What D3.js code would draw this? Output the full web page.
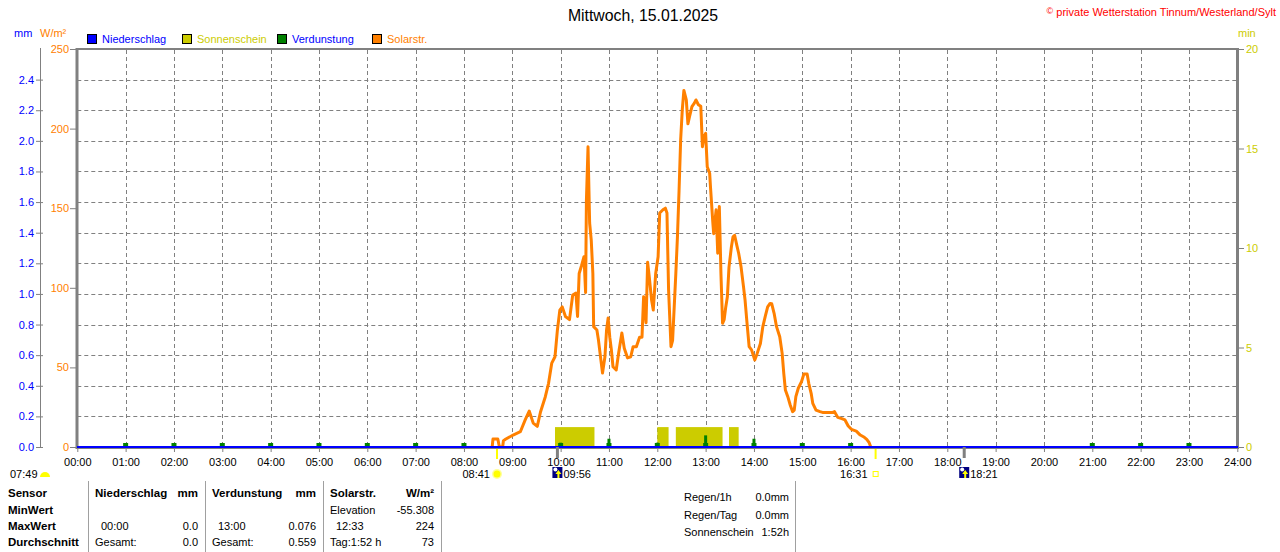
<!DOCTYPE html>
<html lang="de">
<head>
<meta charset="UTF-8" />
<title>Mittwoch, 15.01.2025</title>
<script src="https://d3js.org/d3.v7.min.js"></script>
<style>
  body { margin: 0; background: #fff; }
  svg { display: block; font-family: "Liberation Sans", Arial, sans-serif; font-size: 11px; }
</style>
</head>
<body>
<div class="chart"></div>
<script>
// ---- data ----
var hourLabels = d3.range(0, 25).map(function (h) { return (h < 10 ? "0" : "") + h + ":00"; });

var solarTime = ["08:35","08:36","08:42","08:44","08:48","08:49","08:52","09:01","09:10","09:16","09:21","09:26","09:31","09:35","09:41","09:45","09:49","09:53","09:56","09:59","10:02","10:06","10:11","10:15","10:19","10:21","10:23","10:26","10:29","10:31","10:32","10:34","10:36","10:38","10:40","10:41","10:45","10:47","10:50","10:52","10:55","10:57","10:59","11:01","11:03","11:05","11:09","11:12","11:16","11:19","11:23","11:27","11:30","11:34","11:38","11:41","11:43","11:46","11:48","11:50","11:53","11:55","11:58","12:01","12:03","12:07","12:10","12:12","12:14","12:17","12:19","12:21","12:23","12:25","12:27","12:29","12:31","12:33","12:36","12:38","12:40","12:43","12:46","12:48","12:51","12:54","12:56","12:58","13:00","13:02","13:05","13:06","13:09","13:10","13:13","13:15","13:17","13:19","13:21","13:23","13:25","13:27","13:29","13:32","13:34","13:36","13:39","13:41","13:44","13:47","13:49","13:51","13:54","13:57","14:01","14:04","14:08","14:11","14:14","14:17","14:20","14:22","14:25","14:28","14:32","14:35","14:37","14:39","14:42","14:45","14:48","14:50","14:52","14:55","14:59","15:02","15:06","15:08","15:11","15:13","15:17","15:22","15:26","15:31","15:37","15:40","15:44","15:49","15:53","15:57","16:01","16:07","16:12","16:17","16:20","16:23","16:25"];
var solarValue = [0,5,5,0,0,4,5,7.5,9.6,17,22.6,15,13,22,31.6,40,52.7,56.7,73.5,86,88,82,80,95.5,96.7,82,109,114,119.5,97,155,188.6,140.7,130,109,75.6,73.5,67,54.6,46.5,56.7,73.5,81,69,61,50.4,48.4,59,71.6,62,56,56.7,63,63,69,69,94.4,78,116,107,92,86,109,119.5,147,149,150,147,98.6,63,67,88,109,132,161,193,211.7,224,218,203,207.5,213.8,216,218,215,214,188.6,195,197,176,172,163.5,140.5,134,149,121.7,151,109,77.7,80,88,94.4,113,125.8,132,133,126,121.7,113,100.7,92,80,63,61,54.6,58.8,65,75.6,82,88,90.2,90,84,75.6,69.3,58.8,46.3,35.8,31.6,26.4,22.2,23.2,31.6,36.9,41,45.9,45.9,40,33.7,27.4,23.2,22.2,21.6,21.6,21.6,22.2,18.6,17.8,17,13.2,11.1,10,7.5,6.1,4.8,2.7,0];

var sunStart = ["09:53", "12:00", "12:23", "13:29"];
var sunEnd = ["10:42", "12:14", "13:21", "13:41"];
var sunMinutes = [1, 1, 1, 1];

var evapHour = [1, 2, 3, 4, 5, 6, 7, 8, 10, 11, 12, 13, 14, 15, 16, 21, 22, 23];
var evapValue = [0.022, 0.022, 0.022, 0.022, 0.022, 0.022, 0.022, 0.022, 0.028, 0.054, 0.028, 0.076, 0.054, 0.022, 0.022, 0.022, 0.022, 0.022];

var mmTicks = [0, 0.2, 0.4, 0.6, 0.8, 1.0, 1.2, 1.4, 1.6, 1.8, 2.0, 2.2, 2.4];
var wTicks = [0, 50, 100, 150, 200, 250];
var minTicks = [0, 5, 10, 15, 20];

var sunrise = "08:41", sunset = "16:31", moonrise = "09:56", moonset = "18:21", dawn = "07:49";

function toMin(s) { var p = s.split(":"); return +p[0] * 60 + +p[1]; }

// ---- layout ----
var W = 1280, H = 552;
var svg = d3.select(".chart").append("svg").attr("width", W).attr("height", H);

var x = d3.scaleLinear().domain([0, 1440]).range([77.3, 1237.3]);
var yW = d3.scaleLinear().domain([0, 250]).range([447, 49]);
var yMm = d3.scaleLinear().domain([0, 2.6]).range([447, 49]);
var yMin = d3.scaleLinear().domain([0, 20]).range([447, 49]);

var gray = "#808080";

// grid
svg.append("g").selectAll("line").data(mmTicks.slice(1)).enter().append("line")
  .attr("x1", x(0)).attr("x2", x(1440))
  .attr("y1", function (d) { return Math.round(yMm(d)) + 0.5; })
  .attr("y2", function (d) { return Math.round(yMm(d)) + 0.5; })
  .attr("stroke", gray).attr("stroke-dasharray", "4,3");
svg.append("g").selectAll("line").data(d3.range(1, 24)).enter().append("line")
  .attr("x1", function (h) { return Math.round(x(h * 60)) + 0.5; })
  .attr("x2", function (h) { return Math.round(x(h * 60)) + 0.5; })
  .attr("y1", 50).attr("y2", 447)
  .attr("stroke", gray).attr("stroke-dasharray", "4,3");

// sunshine bars
svg.append("g").selectAll("rect").data(sunStart).enter().append("rect")
  .attr("x", function (d) { return x(toMin(d)); })
  .attr("width", function (d, i) { return x(toMin(sunEnd[i])) - x(toMin(d)); })
  .attr("y", function (d, i) { return yMin(sunMinutes[i]); })
  .attr("height", function (d, i) { return 447 - yMin(sunMinutes[i]); })
  .attr("fill", "#cccc00");

// evaporation bars
var ev = svg.append("g").selectAll("g").data(evapHour).enter().append("g");
ev.append("rect")
  .attr("x", function (h) { return x(h * 60) - 1.5; })
  .attr("width", 3)
  .attr("y", function (h, i) { return yMm(evapValue[i]); })
  .attr("height", function (h, i) { return 447 - yMm(evapValue[i]); })
  .attr("fill", "#008000");
ev.append("rect")
  .attr("x", function (h) { return x(h * 60) - 2.5; })
  .attr("width", 5).attr("y", 443).attr("height", 4)
  .attr("fill", "#008000");

// solar radiation line
var solarData = solarTime.map(function (t, i) { return { t: toMin(t), v: solarValue[i] }; });
svg.append("path").datum(solarData)
  .attr("fill", "none").attr("stroke", "#ff8000").attr("stroke-width", 3)
  .attr("stroke-linejoin", "round")
  .attr("d", d3.line().x(function (d) { return x(d.t); }).y(function (d) { return yW(d.v); }));

// frame
svg.append("line").attr("x1", 76).attr("x2", 1238).attr("y1", 49).attr("y2", 49).attr("stroke", gray).attr("stroke-width", 2);
svg.append("line").attr("x1", 77).attr("x2", 77).attr("y1", 48).attr("y2", 449).attr("stroke", gray).attr("stroke-width", 3);
svg.append("line").attr("x1", 1237.5).attr("x2", 1237.5).attr("y1", 48).attr("y2", 449).attr("stroke", gray).attr("stroke-width", 3);
svg.append("line").attr("x1", 77).attr("x2", 1238).attr("y1", 448.5).attr("y2", 448.5).attr("stroke", gray).attr("stroke-width", 1);
svg.append("line").attr("x1", 77).attr("x2", 1238).attr("y1", 447).attr("y2", 447).attr("stroke", "#0000ff").attr("stroke-width", 2);

// bottom axis
var xAxis = d3.axisBottom(x).tickValues(d3.range(0, 25).map(function (h) { return h * 60; }))
  .tickFormat(function (d) { return hourLabels[d / 60]; }).tickSize(4).tickPadding(6);
var gx = svg.append("g").attr("transform", "translate(0,448)").call(xAxis);
gx.select(".domain").remove();
gx.selectAll("line").attr("stroke", gray);
gx.selectAll("text").attr("fill", "#000").style("font-size", "11px").style("font-family", "inherit");

// left mm axis
svg.append("line").attr("x1", 40.5).attr("x2", 40.5).attr("y1", 48).attr("y2", 447).attr("stroke", gray);
var gmm = svg.append("g").attr("transform", "translate(43,0)")
  .call(d3.axisLeft(yMm).tickValues(mmTicks).tickFormat(d3.format(".1f")).tickSize(7).tickPadding(2));
gmm.select(".domain").remove();
gmm.selectAll("line").attr("stroke", gray);
gmm.selectAll("text").attr("fill", "#0000ff").style("font-size", "11px").style("font-family", "inherit");

// W/m2 axis
var gw = svg.append("g").attr("transform", "translate(76,0)")
  .call(d3.axisLeft(yW).tickValues(wTicks).tickSize(6).tickPadding(1));
gw.select(".domain").remove();
gw.selectAll("line").attr("stroke", gray);
gw.selectAll("text").attr("fill", "#ff8000").style("font-size", "11px").style("font-family", "inherit");

// right min axis
var gm = svg.append("g").attr("transform", "translate(1239,0)")
  .call(d3.axisRight(yMin).tickValues(minTicks).tickSize(5).tickPadding(2));
gm.select(".domain").remove();
gm.selectAll("line").attr("stroke", gray);
gm.selectAll("text").attr("fill", "#cccc00").style("font-size", "11px").style("font-family", "inherit");

// unit headers
svg.append("text").attr("x", 14).attr("y", 37).attr("fill", "#0000ff").text("mm");
svg.append("text").attr("x", 40).attr("y", 37).attr("fill", "#ff8000").text("W/m²");
svg.append("text").attr("x", 1238).attr("y", 37).attr("fill", "#cccc00").text("min");

// legend
var legNames = ["Niederschlag", "Sonnenschein", "Verdunstung", "Solarstr."];
var legBox = ["#0000ff", "#cccc00", "#008000", "#ff8000"];
var legText = ["#0000ff", "#cccc00", "#0000ff", "#ff8000"];
var legX = [87, 182, 277, 372];
var leg = svg.append("g").selectAll("g").data(legNames).enter().append("g")
  .attr("transform", function (d, i) { return "translate(" + legX[i] + ",0)"; });
leg.append("rect").attr("x", 0.5).attr("y", 34.5).attr("width", 9).attr("height", 9)
  .attr("fill", function (d, i) { return legBox[i]; }).attr("stroke", "#000");
leg.append("text").attr("x", 15).attr("y", 43).attr("fill", function (d, i) { return legText[i]; }).text(function (d) { return d; });

// title & copyright
svg.append("text").attr("x", 643).attr("y", 21).attr("text-anchor", "middle").style("font-size", "15.8px").text("Mittwoch, 15.01.2025");
svg.append("text").attr("x", 1276).attr("y", 16).attr("text-anchor", "end").attr("fill", "#ff0000").style("font-size", "11px")
  .html('<tspan font-size="9px" dy="-2">©</tspan><tspan dy="2"> private Wetterstation Tinnum/Westerland/Sylt</tspan>');

// sun / moon markers
var mk = svg.append("g");
mk.append("text").attr("x", 10).attr("y", 478).text(dawn);
mk.append("path").attr("d", "M40,477 A5,5 0 0 1 50,477 Z").attr("fill", "#ffff00");

var xr = x(toMin(sunrise));
mk.append("line").attr("x1", xr).attr("x2", xr).attr("y1", 449).attr("y2", 459).attr("stroke", "#ffff00").attr("stroke-width", 2);
mk.append("text").attr("x", xr - 7).attr("y", 478).attr("text-anchor", "end").text(sunrise);
mk.append("circle").attr("cx", xr).attr("cy", 474).attr("r", 5).attr("fill", "#ffff99");
mk.append("circle").attr("cx", xr).attr("cy", 474).attr("r", 3.5).attr("fill", "#ffff00");

var xs = x(toMin(sunset));
mk.append("line").attr("x1", xs).attr("x2", xs).attr("y1", 449).attr("y2", 459).attr("stroke", "#ffff00").attr("stroke-width", 2);
mk.append("text").attr("x", xs - 8).attr("y", 478).attr("text-anchor", "end").text(sunset);
mk.append("rect").attr("x", xs - 2.5).attr("y", 471.5).attr("width", 5).attr("height", 5).attr("fill", "none").attr("stroke", "#ffff00");

function moon(t) {
  var xm = x(toMin(t));
  mk.append("line").attr("x1", xm).attr("x2", xm).attr("y1", 447).attr("y2", 458).attr("stroke", gray).attr("stroke-width", 3);
  mk.append("rect").attr("x", xm - 5).attr("y", 467).attr("width", 10).attr("height", 11).attr("fill", "#000080");
  mk.append("path").attr("d", "M" + (xm + 1) + ",470 l3,4 h-2 v4 h-2 v-4 h-2 Z").attr("fill", "#ffff00");
  mk.append("circle").attr("cx", xm - 2).attr("cy", 469.5).attr("r", 2).attr("fill", "#ffffff");
  mk.append("text").attr("x", xm + 6).attr("y", 478).text(t);
}
moon(moonrise);
moon(moonset);

// table
var sep = [88.5, 205.5, 323.5, 441.5, 795.5];
svg.append("g").selectAll("line").data(sep).enter().append("line")
  .attr("x1", function (d) { return d; }).attr("x2", function (d) { return d; })
  .attr("y1", 481).attr("y2", 552).attr("stroke", "#a0a0a0");

var rowY = [497, 514, 530, 546];
var rowLabels = ["Sensor", "MinWert", "MaxWert", "Durchschnitt"];
var tbl = svg.append("g");
rowLabels.forEach(function (l, i) {
  tbl.append("text").attr("x", 8).attr("y", rowY[i]).style("font-weight", "bold").style("font-size", "11.5px").text(l);
});
var cells = [
  // [x, row, text, anchor, bold]
  [95, 0, "Niederschlag", "start", true], [198, 0, "mm", "end", true],
  [212, 0, "Verdunstung", "start", true], [316, 0, "mm", "end", true],
  [330, 0, "Solarstr.", "start", true], [434, 0, "W/m²", "end", true],
  [330, 1, "Elevation", "start"], [434, 1, "-55.308", "end"],
  [101, 2, "00:00", "start"], [198, 2, "0.0", "end"],
  [218, 2, "13:00", "start"], [316, 2, "0.076", "end"],
  [336, 2, "12:33", "start"], [434, 2, "224", "end"],
  [95, 3, "Gesamt:", "start"], [198, 3, "0.0", "end"],
  [212, 3, "Gesamt:", "start"], [316, 3, "0.559", "end"],
  [330, 3, "Tag:1:52 h", "start"], [434, 3, "73", "end"]
];
cells.forEach(function (c) {
  tbl.append("text").attr("x", c[0]).attr("y", rowY[c[1]]).attr("text-anchor", c[3])
    .style("font-weight", c[4] ? "bold" : "normal").style("font-size", c[4] ? "11.5px" : "11px").text(c[2]);
});

var rain = [["Regen/1h", "0.0mm", 501], ["Regen/Tag", "0.0mm", 519], ["Sonnenschein", "1:52h", 536]];
rain.forEach(function (r) {
  tbl.append("text").attr("x", 684).attr("y", r[2]).text(r[0]);
  tbl.append("text").attr("x", 789).attr("y", r[2]).attr("text-anchor", "end").text(r[1]);
});
</script>
</body>
</html>
